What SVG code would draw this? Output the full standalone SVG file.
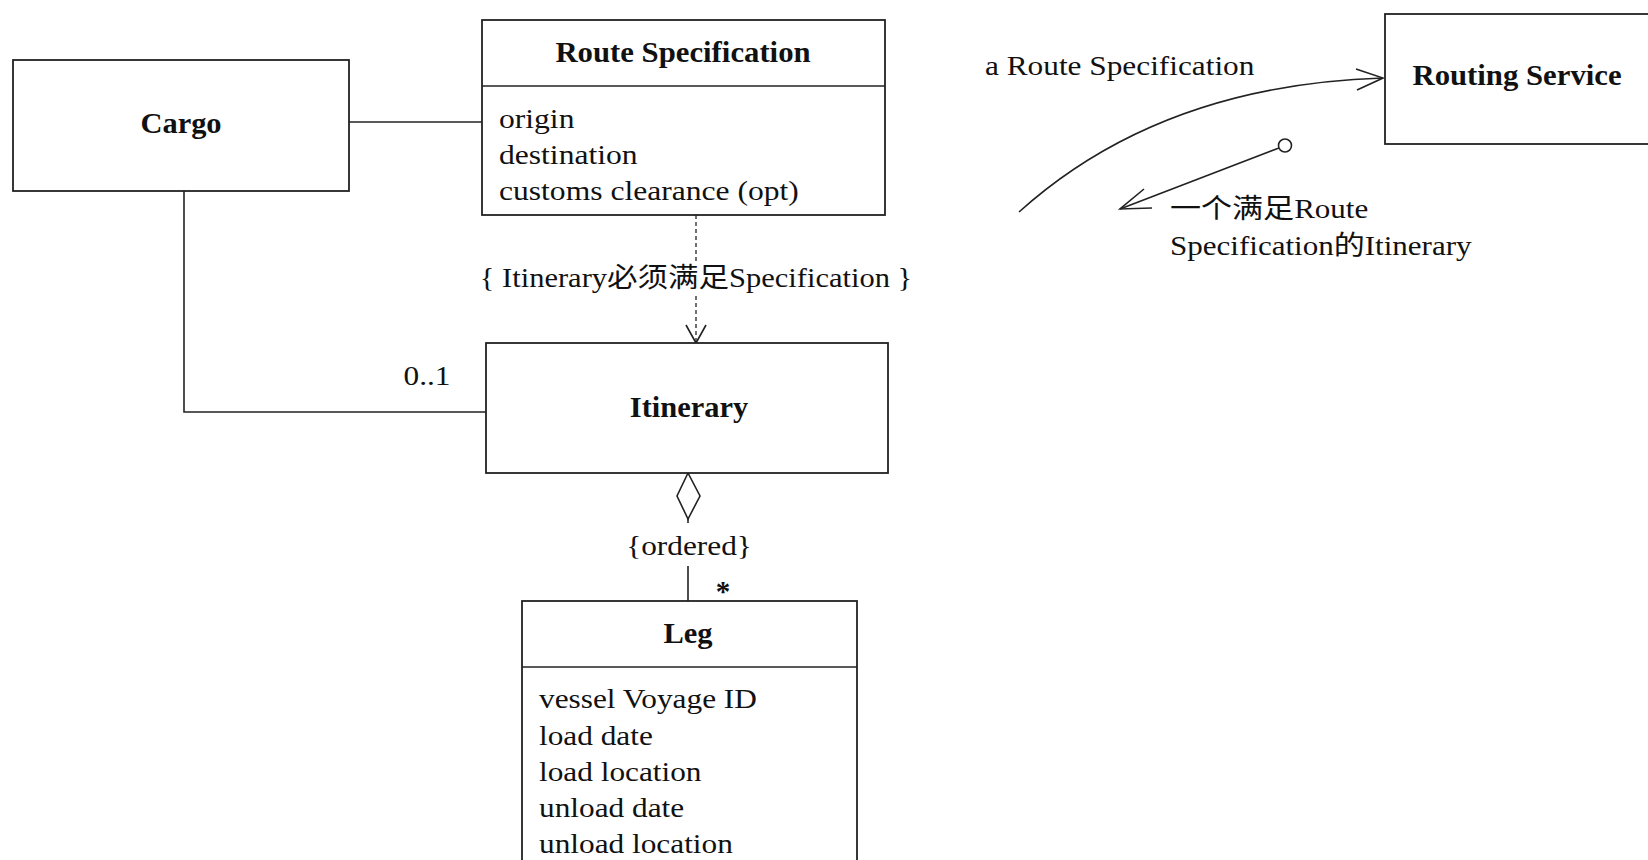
<svg xmlns="http://www.w3.org/2000/svg" width="1648" height="860" viewBox="0 0 1648 860">
<defs>
<style>
.box{fill:#fff;stroke:#222;stroke-width:1.8}
.ln{fill:none;stroke:#222;stroke-width:1.6}
.dash{fill:none;stroke:#333;stroke-width:1.4;stroke-dasharray:4 3}
.t{font-family:"Liberation Serif","Noto Sans CJK SC",serif;font-size:27px;fill:#111}
.b{font-family:"Liberation Serif",serif;font-size:29px;font-weight:bold;fill:#111}
.m{text-anchor:middle}
</style>
</defs>
<rect width="1648" height="860" fill="#fff"/>
<g id="connectors">
<path class="ln" d="M349 122 H482"/>
<path class="ln" d="M184 191 V412 H486"/>
<path class="dash" d="M696 215 V262 M696 296 V343"/>
<path class="ln" d="M686 325 L696 343 L706 325"/>
<path class="ln" d="M688 473 L677 496 L688 519 L700 496 Z"/>
<path class="ln" d="M688 519 V523 M688 566 V601"/>
<path class="ln" d="M1019 212 Q1160 85 1383 78"/>
<path class="ln" d="M1356 69 L1383 78 L1357 90"/>
<path class="ln" d="M1279 148 L1120 209"/>
<circle class="ln" cx="1285" cy="145.5" r="6.5" fill="#fff"/>
<path class="ln" d="M1144 189 L1120 209 L1152 208"/>
<text class="t m" transform="translate(696,287) scale(1.13,1)">{ Itinerary必须满足Specification }</text>
<text class="t m" transform="translate(427,385) scale(1.16,1)">0..1</text>
<text class="t m" transform="translate(689,555) scale(1.16,1)">{ordered}</text>
<text class="b m" x="723" y="601">*</text>
<text class="t" transform="translate(985,75) scale(1.16,1)">a Route Specification</text>
<text class="t" transform="translate(1170,218) scale(1.15,1)">一个满足Route</text>
<text class="t" transform="translate(1170,255) scale(1.15,1)">Specification的Itinerary</text>
</g>
<g id="cargo">
<rect class="box" x="13" y="60" width="336" height="131"/>
<text class="b m" transform="translate(181,133) scale(1.05,1)">Cargo</text>
</g>
<g id="route-specification">
<rect class="box" x="482" y="20" width="403" height="195"/>
<path class="ln" d="M482 86 H885"/>
<text class="b m" transform="translate(683,62) scale(1.06,1)">Route Specification</text>
<text class="t" transform="translate(499,128) scale(1.17,1)">origin</text>
<text class="t" transform="translate(499,164) scale(1.17,1)">destination</text>
<text class="t" transform="translate(499,200) scale(1.17,1)">customs clearance (opt)</text>
</g>
<g id="itinerary">
<rect class="box" x="486" y="343" width="402" height="130"/>
<text class="b m" transform="translate(689,417) scale(1.05,1)">Itinerary</text>
</g>
<g id="leg">
<rect class="box" x="522" y="601" width="335" height="280"/>
<path class="ln" d="M522 667 H857"/>
<text class="b m" transform="translate(688,643) scale(1.05,1)">Leg</text>
<text class="t" transform="translate(539,708) scale(1.16,1)">vessel Voyage ID</text>
<text class="t" transform="translate(539,745) scale(1.16,1)">load date</text>
<text class="t" transform="translate(539,781) scale(1.16,1)">load location</text>
<text class="t" transform="translate(539,817) scale(1.16,1)">unload date</text>
<text class="t" transform="translate(539,853) scale(1.16,1)">unload location</text>
</g>
<g id="routing-service">
<rect class="box" x="1385" y="14" width="300" height="130"/>
<text class="b m" transform="translate(1517,85) scale(1.06,1)">Routing Service</text>
</g>
</svg>
